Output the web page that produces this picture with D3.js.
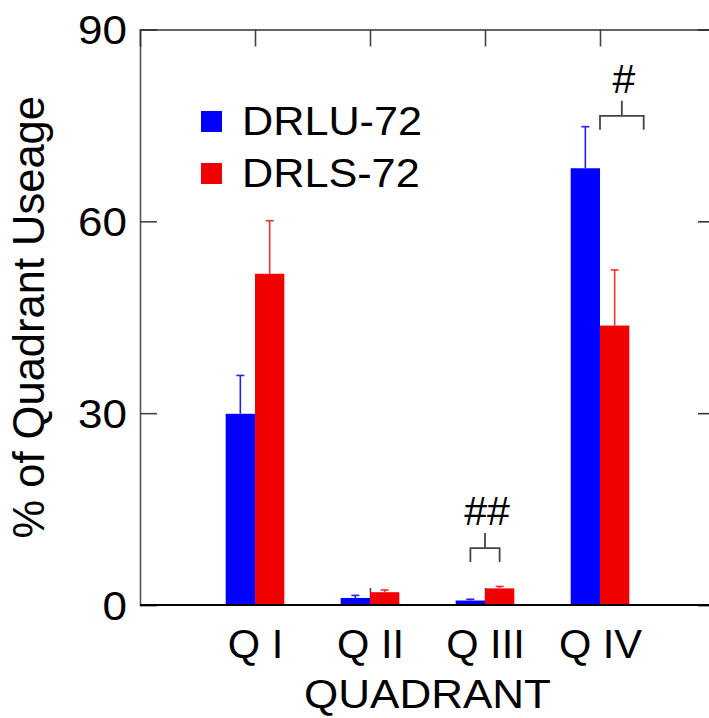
<!DOCTYPE html>
<html>
<head>
<meta charset="utf-8">
<script src="https://cdn.jsdelivr.net/npm/d3@7"></script>
<style>
  html, body { margin: 0; padding: 0; background: #fff; }
  svg { display: block; font-family: "Liberation Sans", Arial, sans-serif; }
</style>
</head>
<body>
<svg id="chart" width="709" height="718"></svg>
<script>
// Quadrant usage per group (mean %, with upward SEM bars)
const categories = ["Q I", "Q II", "Q III", "Q IV"];
const seriesNames = ["DRLU-72", "DRLS-72"];
const drluValues = [29.9, 1.1, 0.7, 68.3];
const drluErrors = [6.0, 0.4, 0.2, 6.5];
const drlsValues = [51.8, 2.0, 2.6, 43.7];
const drlsErrors = [8.3, 0.35, 0.3, 8.7];
const yTicks = [0, 30, 60, 90];
// significance markers: category index, bracket span (in category units), bracket level
const marks = [
  { text: "##", cat: 2, from: -0.127, to: 0.127, level: 8.9 },
  { text: "#", cat: 3, from: 0.0, to: 0.38, level: 76.5 }
];

const colors = ["#0000ff", "#f00000"];
const errColors = ["#2020ff", "#f03030"];

const svg = d3.select("#chart");
const plotLeft = 140, plotRight = 715, plotTop = 29.5, plotBottom = 605;

const x = d3.scaleLinear().domain([0, categories.length + 1]).range([plotLeft, plotRight]);
const y = d3.scaleLinear().domain([0, 90]).range([plotBottom, plotTop]);
const barW = 0.255; // width of one bar, in category units
const stretch = 1.08; // text is set slightly wide

const axesLayer = svg.append("g");
const barLayer = svg.append("g");
const topLayer = svg.append("g");

// axes: frame with inward ticks on all four sides
const tickLen = 17;
const font = "'Liberation Sans', Arial, sans-serif";
const axisY = d3.axisLeft(y).tickValues(yTicks).tickSize(-tickLen).tickPadding(13);
const gy = axesLayer.append("g").attr("transform", `translate(${plotLeft},0)`).call(axisY);
gy.select(".domain").attr("stroke", "#555").attr("stroke-width", 1.6);
gy.selectAll(".tick line").attr("stroke", "#444").attr("stroke-width", 1.6);
gy.selectAll(".tick text").attr("font-size", 40).attr("fill", "#000")
  .attr("font-family", font).attr("dy", "0.36em")
  .attr("x", -13 / 1.1).attr("transform", "scale(1.1,1)");

const axisYR = d3.axisRight(y).tickValues(yTicks).tickSize(-tickLen).tickFormat("");
const gyr = axesLayer.append("g").attr("transform", `translate(${plotRight},0)`).call(axisYR);
gyr.select(".domain").attr("stroke", "#333").attr("stroke-width", 1.6);
gyr.selectAll(".tick line").attr("stroke", "#333").attr("stroke-width", 1.6);

const catTicks = categories.map((c, i) => i + 1);
const axisXT = d3.axisTop(x).tickValues(catTicks).tickSize(-tickLen).tickFormat("");
const gxt = axesLayer.append("g").attr("transform", `translate(0,${plotTop})`).call(axisXT);
gxt.select(".domain").attr("stroke", "#333").attr("stroke-width", 1.6);
gxt.selectAll(".tick line").attr("stroke", "#444").attr("stroke-width", 1.6);

const axisXB = d3.axisBottom(x).tickValues(catTicks).tickSize(-tickLen)
  .tickFormat((d, i) => categories[i]).tickPadding(25);
const gxb = axesLayer.append("g").attr("transform", `translate(0,${plotBottom})`).call(axisXB);
gxb.select(".domain").attr("stroke", "none");
gxb.selectAll(".tick line").attr("stroke", "#444").attr("stroke-width", 1.6);
gxb.selectAll(".tick text").attr("font-size", 40).attr("fill", "#000")
  .attr("font-family", font).attr("dy", "0.71em").attr("transform", "scale(1.04,1)");

// bars with upper error bars
const series = [
  { name: seriesNames[0], values: drluValues, errors: drluErrors, offset: -barW },
  { name: seriesNames[1], values: drlsValues, errors: drlsErrors, offset: 0 }
];
series.forEach((s, si) => {
  barLayer.append("g").selectAll("rect").data(s.values).join("rect")
    .attr("x", (d, i) => x(i + 1 + s.offset))
    .attr("width", x(barW) - x(0))
    .attr("y", d => y(d))
    .attr("height", d => y(0) - y(d))
    .attr("fill", colors[si]);
  const e = barLayer.append("g").attr("stroke", errColors[si]).attr("stroke-width", 1.6);
  s.values.forEach((v, i) => {
    const cx = x(i + 1 + s.offset + barW / 2);
    const ty = y(v + s.errors[i]);
    e.append("line").attr("x1", cx).attr("x2", cx).attr("y1", y(v)).attr("y2", ty);
    e.append("line").attr("x1", cx - 4).attr("x2", cx + 4).attr("y1", ty).attr("y2", ty);
  });
});

// baseline drawn over the bars
topLayer.append("line")
  .attr("x1", plotLeft).attr("x2", plotRight).attr("y1", y(0)).attr("y2", y(0))
  .attr("stroke", "#000").attr("stroke-width", 2.2);

// axis titles
topLayer.append("g").attr("transform", `translate(${(plotLeft + plotRight) / 2},708) scale(1.1,1)`)
  .append("text").attr("text-anchor", "middle").attr("font-size", 40).text("QUADRANT");
topLayer.append("text")
  .attr("transform", `translate(44,${(plotTop + plotBottom) / 2}) rotate(-90)`)
  .attr("text-anchor", "middle").attr("font-size", 43.5).text("% of Quadrant Useage");

// legend
seriesNames.forEach((n, i) => {
  topLayer.append("rect").attr("x", 201).attr("y", 111 + i * 52).attr("width", 21).attr("height", 21)
    .attr("fill", colors[i]);
  topLayer.append("g").attr("transform", `translate(242,${135 + i * 52}) scale(${stretch},1)`)
    .append("text").attr("font-size", 40).text(n);
});

// significance brackets
marks.forEach(m => {
  const x0 = x(m.cat + 1 + m.from), x1 = x(m.cat + 1 + m.to);
  const xm = (x0 + x1) / 2, yl = y(m.level);
  topLayer.append("path")
    .attr("d", `M${x0},${yl + 14}V${yl}H${x1}V${yl + 14}M${xm},${yl}V${yl - 15}`)
    .attr("stroke", "#444").attr("stroke-width", 1.8).attr("fill", "none");
  topLayer.append("text").attr("x", xm + 2).attr("y", yl - 23)
    .attr("text-anchor", "middle").attr("font-size", 41).text(m.text);
});
</script>
</body>
</html>
